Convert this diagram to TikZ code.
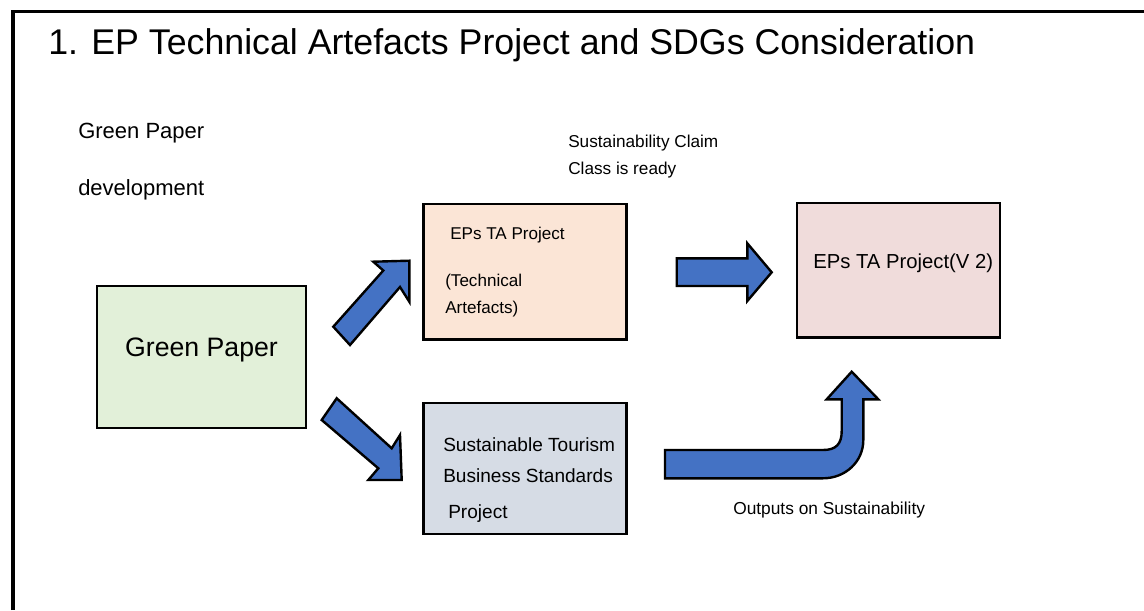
\documentclass[tikz,border=0pt]{standalone}
\usepackage{fontspec}
\setmainfont{Liberation Sans}
\begin{document}
\begin{tikzpicture}[x=0.75pt,y=-0.75pt,
  box/.style={draw=black,line width=2.2pt},
  blockarrow/.style={draw=black,line width=1.8pt,fill=arrowblue,line join=miter},
  lbl/.style={anchor=base west,inner sep=0pt,font=\fontsize{12.8pt}{15pt}\selectfont}]
\definecolor{arrowblue}{HTML}{4472C4}
\definecolor{gpgreen}{HTML}{E2F0D9}
\definecolor{taorange}{HTML}{FBE5D6}
\definecolor{stgray}{HTML}{D6DCE5}
\definecolor{v2pink}{HTML}{F0DCDB}
\useasboundingbox (0,0) rectangle (1144,610);
\fill[white] (0,0) rectangle (1144,610);
% frame
\draw[line width=2.6pt] (13,610) -- (13,11.5) -- (1144,11.5);
% title
\node[anchor=base west,inner sep=0pt,font=\fontsize{26.8pt}{31pt}\selectfont] (title) at (48,55) {1. EP Technical Artefacts Project and SDGs Consideration};
\node[anchor=base west,inner sep=0pt,font=\fontsize{16.5pt}{20pt}\selectfont] (gpd1) at (78,138) {Green Paper};
\node[anchor=base west,inner sep=0pt,font=\fontsize{16.5pt}{20pt}\selectfont] (gpd2) at (78,195) {development};
% boxes
\draw[box,fill=gpgreen] (97,286) rectangle (306,428);
\node[font=\fontsize{20pt}{24pt}\selectfont] (gp) at (201.5,350) {Green Paper};
\draw[box,fill=taorange] (423.5,204) rectangle (626.5,339.5);
\node[lbl] (ta1) at (450,239) {EPs TA Project};
\node[lbl] (ta2) at (445,286) {(Technical};
\node[lbl] (ta3) at (445,313) {Artefacts)};
\draw[box,fill=stgray] (423.5,403) rectangle (626.5,534);
\node[lbl,font=\fontsize{14.3pt}{17pt}\selectfont] (st1) at (443,451) {Sustainable Tourism};
\node[lbl,font=\fontsize{14.3pt}{17pt}\selectfont] (st2) at (443,482) {Business Standards};
\node[lbl,font=\fontsize{14.3pt}{17pt}\selectfont] (st3) at (448,518) {Project};
\draw[box,fill=v2pink] (797,203) rectangle (1000,337.5);
\node[lbl,font=\fontsize{15.2pt}{18pt}\selectfont] (v2) at (813,268) {EPs TA Project(V 2)};
% side labels
\node[lbl,font=\fontsize{12.9pt}{15pt}\selectfont] (sc1) at (568,147) {Sustainability Claim};
\node[lbl,font=\fontsize{12.9pt}{15pt}\selectfont] (sc2) at (568,174) {Class is ready};
\node[lbl,font=\fontsize{13pt}{15pt}\selectfont] (out) at (733,514) {Outputs on Sustainability};
% block arrows
\draw[blockarrow] (333.3,326.7) -- (383.3,270.5) -- (373.3,261.7) -- (409.3,260.7) -- (409.3,301.7) -- (400,287) -- (350,345) -- cycle;
\draw[blockarrow] (336.7,398.3) -- (391.7,448.3) -- (400,435) -- (401.7,480) -- (368.3,480) -- (378.3,468.3) -- (321.7,420) -- cycle;
\draw[blockarrow] (676.7,258.3) -- (747.3,258.3) -- (747.3,243.3) -- (771.7,272.3) -- (747.3,301) -- (747.3,286) -- (676.7,286) -- cycle;
\draw[blockarrow] (665,450) -- (823,450) .. controls (836,450) and (841.7,444) .. (841.7,431) -- (841.7,399.3) -- (826.7,399.3) -- (851.7,371.7) -- (878.3,399.3) -- (863.3,399.3) -- (863.3,440) .. controls (863.3,462) and (845,478.3) .. (823,478.3) -- (665,478.3) -- cycle;
\end{tikzpicture}
\end{document}
